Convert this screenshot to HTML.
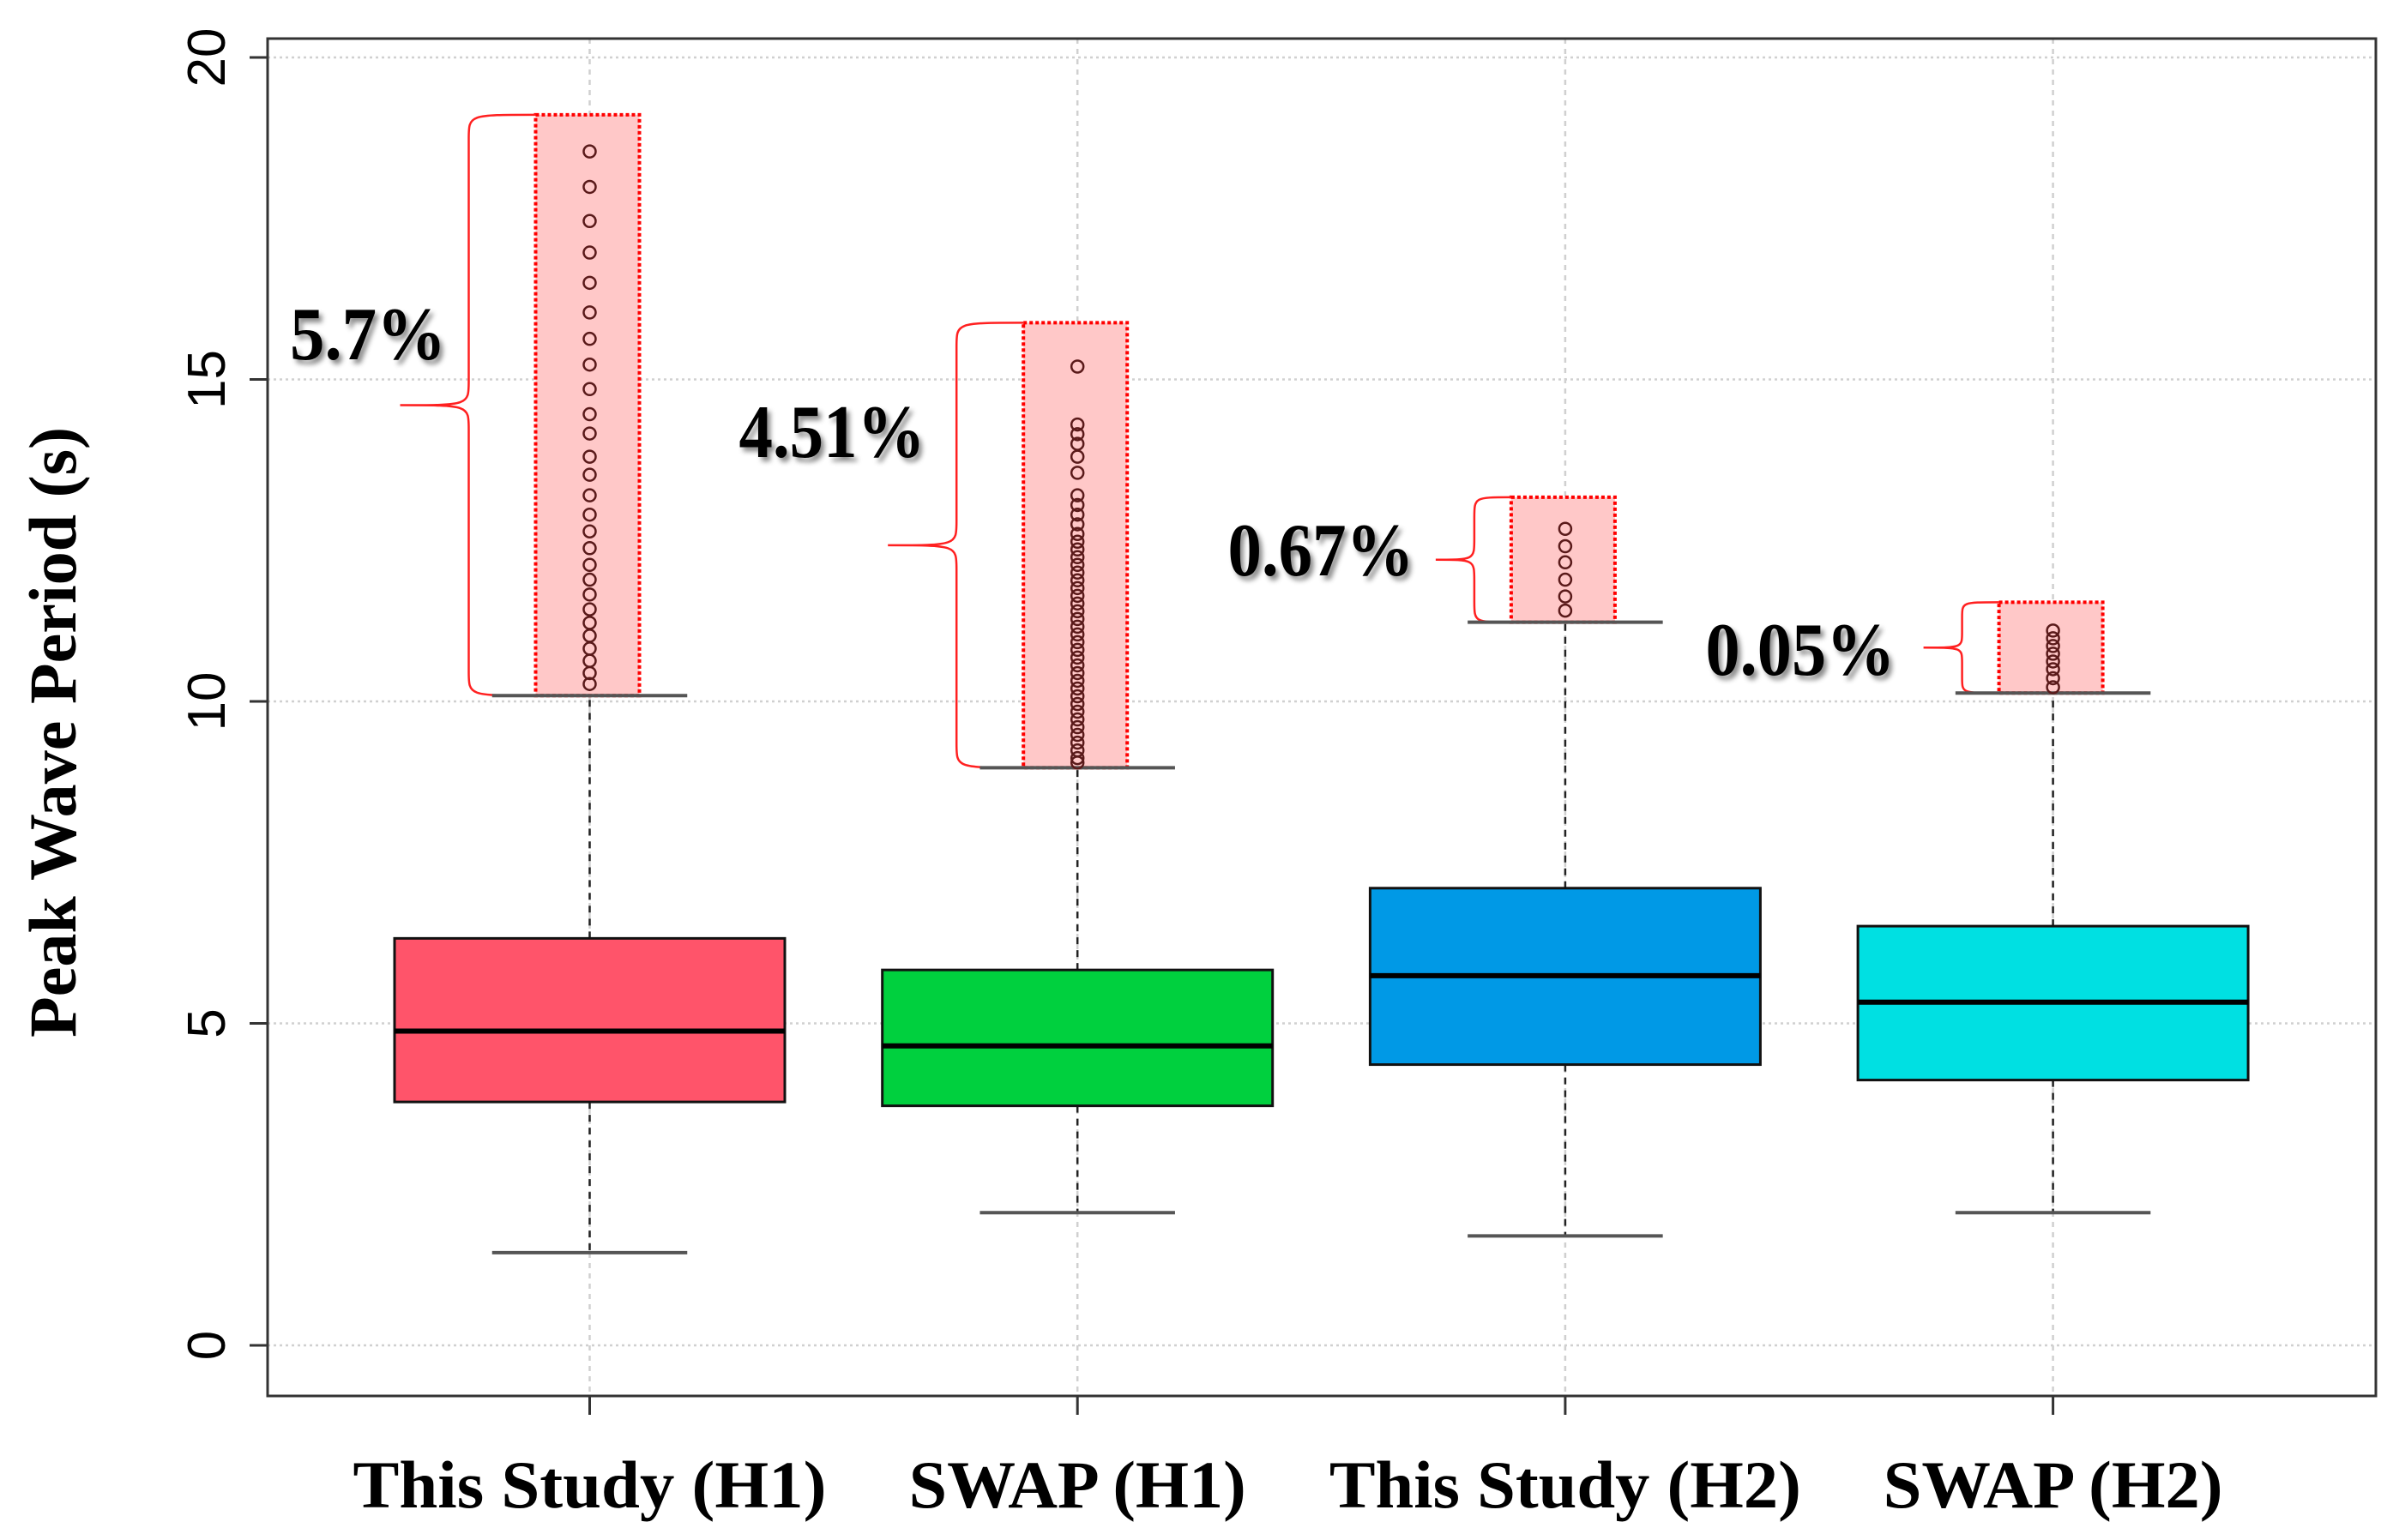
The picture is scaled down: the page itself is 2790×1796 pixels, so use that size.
<!DOCTYPE html>
<html><head><meta charset="utf-8"><style>
html,body{margin:0;padding:0;background:#fff;}
svg{display:block;}
</style></head><body>
<svg id="chart" width="2790" height="1796" viewBox="0 0 2790 1796" xmlns="http://www.w3.org/2000/svg">
<defs><filter id="sh" x="-10%" y="-10%" width="130%" height="140%"><feDropShadow dx="4" dy="5" stdDeviation="3" flood-color="#000" flood-opacity="0.45"/></filter></defs>
<g id="grid"></g>
<g id="marks"></g>
<g id="axes"></g>
</svg>
<script>
const categories = ["This Study (H1)", "SWAP (H1)", "This Study (H2)", "SWAP (H2)"];
const lowerWhisker = [1.44, 2.06, 1.70, 2.06];
const q1 = [3.78, 3.72, 4.36, 4.12];
const medians = [4.88, 4.65, 5.74, 5.33];
const q3 = [6.32, 5.83, 7.10, 6.51];
const upperWhisker = [10.09, 8.97, 11.23, 10.13];
const outliers1 = [18.54,17.99,17.46,16.97,16.50,16.04,15.63,15.23,14.85,14.46,14.16,13.80,13.52,13.20,12.90,12.64,12.38,12.12,11.89,11.66,11.43,11.22,11.02,10.82,10.63,10.44,10.27];
const outliers2 = [15.20,14.30,14.15,14.00,13.80,13.55,13.20,13.05,12.90,12.75,12.60,12.48,12.36,12.24,12.12,12.00,11.88,11.76,11.64,11.52,11.40,11.28,11.16,11.04,10.92,10.80,10.68,10.56,10.44,10.32,10.20,10.08,9.96,9.84,9.72,9.60,9.48,9.36,9.24,9.12,9.05];
const outliers3 = [12.68,12.41,12.16,11.89,11.63,11.41];
const outliers4 = [11.10,10.98,10.86,10.74,10.62,10.50,10.36,10.22];
const outlierSets = [outliers1, outliers2, outliers3, outliers4];
const highlightTop = [19.11, 15.88, 13.17, 11.54];
const percentLabels = ["5.7%", "4.51%", "0.67%", "0.05%"];
const yTicks = [0, 5, 10, 15, 20];
const boxColors = ["#ff546a", "#00d03e", "#0099e6", "#00e0e2"];

const NS = "http://www.w3.org/2000/svg";
const X0 = 312, X1 = 2770, Y0 = 45, Y1 = 1628;
function y(v){ return 1569 - 75.1 * v; }
function x(i){ return 687.5 + 568.7 * i; }
const HW = 227.5;
function mk(parent, tag, attrs){
  const e = document.createElementNS(NS, tag);
  for (const k in attrs) e.setAttribute(k, attrs[k]);
  document.getElementById(parent).appendChild(e);
  return e;
}
yTicks.forEach(t => {
  const l = mk("grid","line",{x1:X0,x2:X1,y1:y(t),y2:y(t),stroke:"#d0d0d0","stroke-width":2.5,"stroke-dasharray":"3 4"});
  
  
});
categories.forEach((c,i) => {
  const l = mk("grid","line",{x1:x(i),x2:x(i),y1:Y0,y2:Y1,stroke:"#d0d0d0","stroke-width":2.5,"stroke-dasharray":"6 6"});
  
  
});
const labelPos = [[429,388],[970,502],[1540,640],[2099,756]];
const labelWidths = [182, 217, 217, 221];
categories.forEach((c,i) => {
  const top = y(highlightTop[i]), bot = y(upperWhisker[i]);
  const rl = x(i) - 63, rr = x(i) + 58;
  const r = mk("marks","rect",{x:rl,y:top,width:rr-rl,height:bot-top,fill:"#ffc8c8",stroke:"#ff0000","stroke-width":4,"stroke-dasharray":"4 3"});
  
  
  const vx = rl - 78 + (i>=2 ? 35 : 0);
  const tipx = vx - 80 + (i>=2 ? 35 : 0);
  const my = (top + bot) / 2;
  const cr = Math.min(28, (bot-top)/6);
  const d = `M${rl},${top} C${vx},${top} ${vx},${top} ${vx},${top+cr} L${vx},${my-cr} C${vx},${my} ${vx},${my} ${tipx},${my} C${vx},${my} ${vx},${my} ${vx},${my+cr} L${vx},${bot-cr} C${vx},${bot} ${vx},${bot} ${rl},${bot}`;
  const b = mk("marks","path",{d:d,fill:"none",stroke:"#ff2020","stroke-width":2.5});
  
  
  const t = mk("marks","text",{x:labelPos[i][0],y:labelPos[i][1]+31,"text-anchor":"middle","font-family":"Liberation Serif, serif","font-weight":"bold","font-size":88,textLength:labelWidths[i],lengthAdjust:"spacingAndGlyphs",fill:"#000",filter:"url(#sh)"});
  t.textContent = percentLabels[i];
  
  
});
categories.forEach((c,i) => {
  const cx = x(i);
  const w1 = mk("marks","line",{x1:cx,x2:cx,y1:y(q3[i]),y2:y(upperWhisker[i]),stroke:"#222","stroke-width":2.5,"stroke-dasharray":"8 7"});
  
  
  const w2 = mk("marks","line",{x1:cx,x2:cx,y1:y(q1[i]),y2:y(lowerWhisker[i]),stroke:"#222","stroke-width":2.5,"stroke-dasharray":"8 7"});
  
  
  [upperWhisker[i], lowerWhisker[i]].forEach(v => {
    const cap = mk("marks","line",{x1:cx-HW/2,x2:cx+HW/2,y1:y(v),y2:y(v),stroke:"#555","stroke-width":4});
    
    
  });
  const bx = mk("marks","rect",{x:cx-HW,y:y(q3[i]),width:2*HW,height:y(q1[i])-y(q3[i]),fill:boxColors[i],stroke:"#111","stroke-width":3});
  
  
  const md = mk("marks","line",{x1:cx-HW,x2:cx+HW,y1:y(medians[i]),y2:y(medians[i]),stroke:"#000","stroke-width":6});
  
  
  outlierSets[i].forEach(v => {
    const p = mk("marks","circle",{cx:cx,cy:y(v),r:7,fill:"none",stroke:"#5a1a1a","stroke-width":2.5});
    
    
  });
});
const frame = mk("axes","rect",{x:X0,y:Y0,width:X1-X0,height:Y1-Y0,fill:"none",stroke:"#333","stroke-width":3});


yTicks.forEach(t => {
  const tk = mk("axes","line",{x1:291,x2:X0,y1:y(t),y2:y(t),stroke:"#333","stroke-width":3});
  
  
  const lb = mk("axes","text",{x:0,y:0,transform:`translate(262,${y(t)}) rotate(-90)`,"text-anchor":"middle","font-family":"Liberation Sans, sans-serif","font-size":62,fill:"#000"});
  lb.textContent = t;
  
  
});
const xLabelWidths = [552, 393, 550, 396];
categories.forEach((c,i) => {
  const tk = mk("axes","line",{x1:x(i),x2:x(i),y1:Y1,y2:Y1+22,stroke:"#333","stroke-width":3});
  
  
  const lb = mk("axes","text",{x:x(i),y:1758,"text-anchor":"middle","font-family":"Liberation Serif, serif","font-weight":"bold","font-size":78,textLength:xLabelWidths[i],lengthAdjust:"spacingAndGlyphs",fill:"#000"});
  lb.textContent = c;
  
  
});
const yl = mk("axes","text",{x:0,y:0,transform:"translate(88,854) rotate(-90)","text-anchor":"middle","font-family":"Liberation Serif, serif","font-weight":"bold","font-size":78,textLength:712,lengthAdjust:"spacingAndGlyphs",fill:"#000"});
yl.textContent = "Peak Wave Period (s)";


</script>
</body></html>
